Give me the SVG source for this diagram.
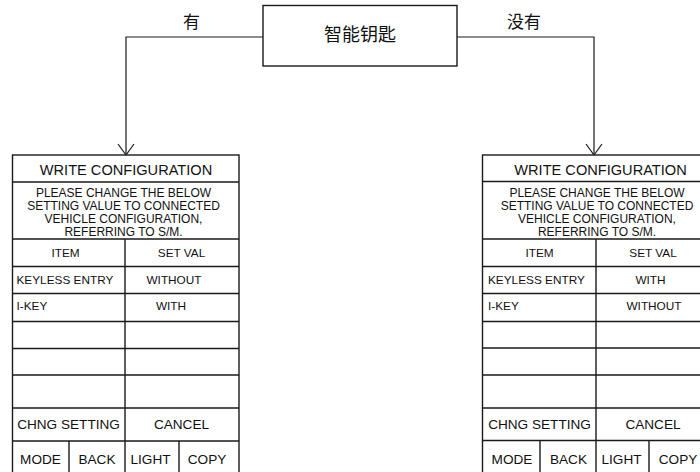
<svg xmlns="http://www.w3.org/2000/svg" width="700" height="472" viewBox="0 0 700 472">
<defs>
<style>
.bg{fill:#ffffff}
.box{fill:#ffffff;stroke:#1a1a1a;stroke-width:1.4}
.ln{stroke:#1a1a1a;stroke-width:1.4;fill:none}
.conn{stroke:#1a1a1a;stroke-width:1.2;fill:none}
.cjk{font-family:"Noto Sans CJK SC","Noto Sans",sans-serif;fill:#111}
.t{font-family:"Liberation Sans",Arial,sans-serif;fill:#111}
.h{font-size:14.6px;text-anchor:middle}
.p{font-size:12px;text-anchor:middle}
.c{font-size:11.8px}
.m{text-anchor:middle}
.b{font-size:13.6px;text-anchor:middle}
</style>
</defs>
<rect class="bg" x="0" y="0" width="700" height="472"/>

<g id="connectors">
<path class="conn" d="M263,37 H126 V155"/>
<path class="conn" d="M118,144 L126,155 L134,144"/>
<path class="conn" d="M457,37 H594 V155"/>
<path class="conn" d="M586,144 L594,155 L602,144"/>
<text class="cjk" x="191.5" y="28" font-size="17" text-anchor="middle">有</text>
<text class="cjk" x="524" y="28" font-size="17" text-anchor="middle">没有</text>
</g>

<g id="smart-key">
<rect class="box" x="263" y="5.5" width="194" height="60.5"/>
<text class="cjk" x="360" y="41" font-size="18" text-anchor="middle">智能钥匙</text>
</g>

<g id="table-with">
<rect class="box" x="12.5" y="155" width="226.5" height="330"/>
<path class="ln" d="M12.5,182 H239 M12.5,239 H239 M12.5,266.5 H239 M12.5,293.5 H239 M12.5,321.5 H239 M12.5,348.5 H239 M12.5,375 H239 M12.5,408 H239 M12.5,441 H239 M125,239 V485 M69,441 V485 M179,441 V485"/>
<text class="t h" x="126" y="175">WRITE CONFIGURATION</text>
<text class="t p" x="123.5" y="196.5">PLEASE CHANGE THE BELOW</text>
<text class="t p" x="123.5" y="209.5">SETTING VALUE TO CONNECTED</text>
<text class="t p" x="123.5" y="222.5">VEHICLE CONFIGURATION,</text>
<text class="t p" x="123.5" y="235.5">REFERRING TO S/M.</text>
<text class="t c m" x="65.5" y="257">ITEM</text>
<text class="t c m" x="181.5" y="257">SET VAL</text>
<text class="t c" x="16.5" y="283.5">KEYLESS ENTRY</text>
<text class="t c m" x="174" y="283.5">WITHOUT</text>
<text class="t c" x="16.5" y="310">I-KEY</text>
<text class="t c m" x="171" y="310">WITH</text>
<text class="t b" x="68.5" y="429">CHNG SETTING</text>
<text class="t b" x="181.5" y="429">CANCEL</text>
<text class="t b" x="40.5" y="464">MODE</text>
<text class="t b" x="97" y="464">BACK</text>
<text class="t b" x="150.5" y="464">LIGHT</text>
<text class="t b" x="207" y="464">COPY</text>
</g>

<g id="table-without">
<rect class="box" x="482.5" y="155" width="228" height="330"/>
<path class="ln" d="M482.5,181.5 H711 M482.5,239 H711 M482.5,266.5 H711 M482.5,293.5 H711 M482.5,321.5 H711 M482.5,348 H711 M482.5,375 H711 M482.5,408 H711 M482.5,440.5 H711 M596,239 V485 M540,440.5 V485 M649,440.5 V485"/>
<text class="t h" x="600.5" y="175" font-size="13.9">WRITE CONFIGURATION</text>
<text class="t p" x="597" y="196.5">PLEASE CHANGE THE BELOW</text>
<text class="t p" x="597" y="209.5">SETTING VALUE TO CONNECTED</text>
<text class="t p" x="597" y="222.5">VEHICLE CONFIGURATION,</text>
<text class="t p" x="597" y="235.5">REFERRING TO S/M.</text>
<text class="t c m" x="539.5" y="257">ITEM</text>
<text class="t c m" x="653" y="257">SET VAL</text>
<text class="t c" x="488" y="283.5">KEYLESS ENTRY</text>
<text class="t c m" x="650.5" y="283.5">WITH</text>
<text class="t c" x="488" y="310">I-KEY</text>
<text class="t c m" x="654" y="310">WITHOUT</text>
<text class="t b" x="539.5" y="428.5">CHNG SETTING</text>
<text class="t b" x="653" y="428.5">CANCEL</text>
<text class="t b" x="512" y="463.5">MODE</text>
<text class="t b" x="568.5" y="463.5">BACK</text>
<text class="t b" x="621.5" y="463.5">LIGHT</text>
<text class="t b" x="678" y="463.5">COPY</text>
</g>
</svg>
